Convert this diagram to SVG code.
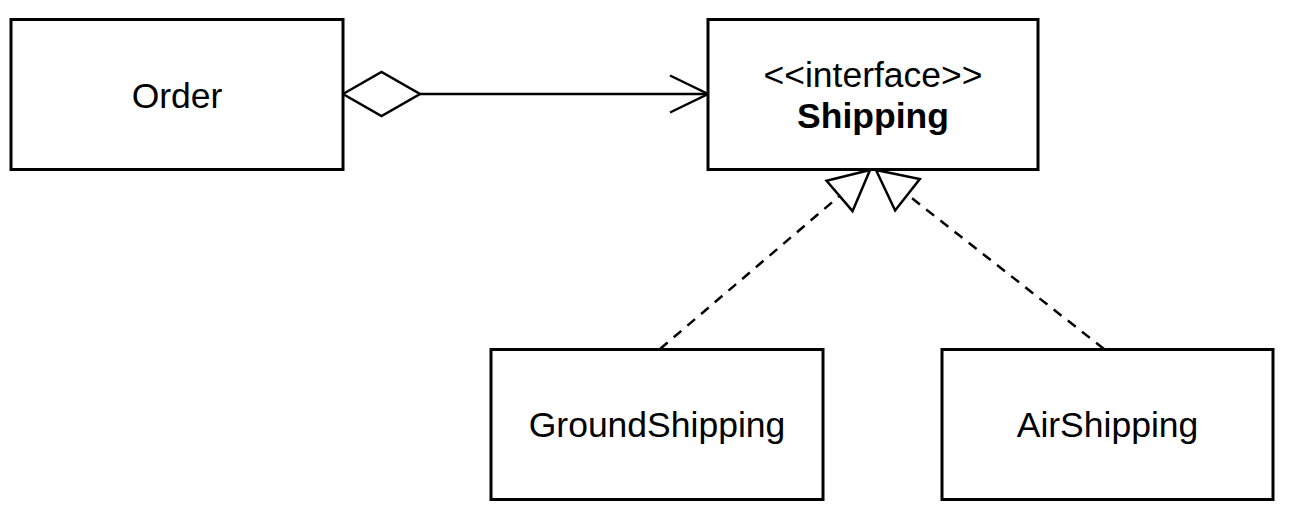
<svg xmlns="http://www.w3.org/2000/svg" width="1292" height="522" viewBox="0 0 1292 522">
  <style>
    .box { fill: #ffffff; stroke: #000000; stroke-width: 3; }
    .lbl { font-family: "Liberation Sans", Arial, Helvetica, sans-serif; font-size: 35.5px; fill: #000000; text-anchor: middle; }
    .bold { font-weight: bold; }
    .edge { fill: none; stroke: #000000; stroke-width: 2.5; }
    .dash { stroke-dasharray: 10 8; }
  </style>
  <defs>
    <marker id="diamond" markerUnits="userSpaceOnUse" viewBox="-2 -25 82 50" refX="0" refY="0" markerWidth="82" markerHeight="50" orient="auto" overflow="visible">
      <path d="M0,0 L38.5,-22 L77,0 L38.5,22 Z" fill="#ffffff" stroke="#000000" stroke-width="2.5" stroke-linejoin="miter"/>
    </marker>
    <marker id="open" markerUnits="userSpaceOnUse" viewBox="-42 -22 46 44" refX="0" refY="0" markerWidth="46" markerHeight="44" orient="auto" overflow="visible">
      <path d="M-38,-18.5 L0,0 L-38,18.5" fill="none" stroke="#000000" stroke-width="2.5"/>
    </marker>
    <marker id="realize" markerUnits="userSpaceOnUse" viewBox="-44 -24 48 48" refX="0" refY="0" markerWidth="48" markerHeight="48" orient="auto" overflow="visible">
      <path d="M0,0 L-40,-20 L-40,20 Z" fill="#ffffff" stroke="#000000" stroke-width="2.5"/>
    </marker>
  </defs>

  <g id="connectors">
    <line id="order-shipping" class="edge" x1="343" y1="94" x2="708" y2="94" marker-start="url(#diamond)" marker-end="url(#open)"/>
    <line id="ground-shipping" class="edge dash" x1="660" y1="349" x2="870" y2="170" marker-end="url(#realize)"/>
    <line id="air-shipping" class="edge dash" x1="1104" y1="349" x2="876" y2="170" marker-end="url(#realize)"/>
  </g>

  <g id="order">
    <rect class="box" x="11" y="19.5" width="332" height="150"/>
    <text class="lbl" x="177" y="108">Order</text>
  </g>

  <g id="shipping">
    <rect class="box" x="708" y="19.5" width="330" height="150"/>
    <text class="lbl" x="873" y="87">&lt;&lt;interface&gt;&gt;</text>
    <text class="lbl bold" x="873" y="128">Shipping</text>
  </g>

  <g id="groundshipping">
    <rect class="box" x="491" y="349.5" width="332" height="150"/>
    <text class="lbl" x="657" y="437">GroundShipping</text>
  </g>

  <g id="airshipping">
    <rect class="box" x="942" y="349.5" width="331" height="150"/>
    <text class="lbl" x="1107.5" y="437">AirShipping</text>
  </g>
</svg>
